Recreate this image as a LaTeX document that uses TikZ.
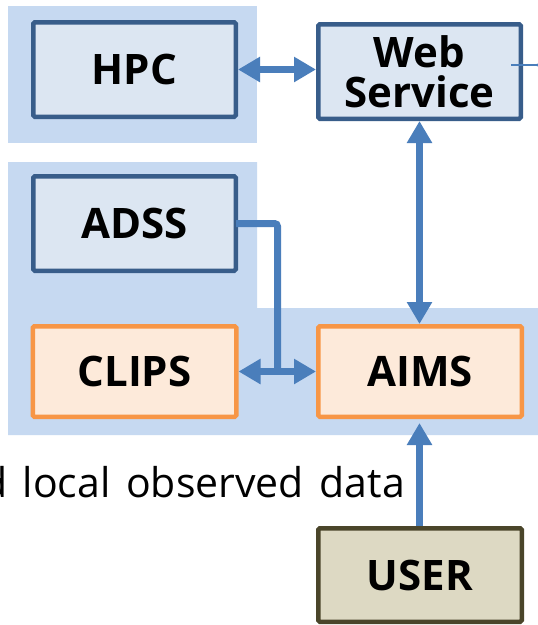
\documentclass[tikz,border=0pt]{standalone}
\usepackage{fontspec}
\setmainfont{Open Sans}
\usetikzlibrary{arrows.meta,calc}
\definecolor{panel}{HTML}{C6D9F1}
\definecolor{bluefill}{HTML}{DCE6F2}
\definecolor{blueline}{HTML}{385D8A}
\definecolor{orfill}{HTML}{FDEADA}
\definecolor{orline}{HTML}{F79646}
\definecolor{usfill}{HTML}{DDD9C3}
\definecolor{usline}{HTML}{4A452A}
\definecolor{arrcol}{HTML}{4A7EBB}
\tikzset{
  box/.style={draw, line width=4.5pt, rounded corners=1.5pt, inner sep=0pt,
    minimum width=202.5pt, align=center,
    font=\fontsize{42}{40}\selectfont\bfseries},
  bluebox/.style={box, fill=bluefill, draw=blueline, minimum height=94.5pt},
  orbox/.style={box, fill=orfill, draw=orline, minimum height=90.5pt, minimum width=203.5pt},
  userbox/.style={box, fill=usfill, draw=usline, minimum height=93.5pt, minimum width=203.5pt},
  arr/.style={draw=arrcol, line width=7pt},
  tipA/.tip={Triangle[length=22pt,width=24pt]},
  thinline/.style={draw=arrcol, line width=2.5pt},
}
\begin{document}
\begin{tikzpicture}[x=1pt,y=-1pt]
\clip (0,0) rectangle (538,625);
\fill[white] (0,0) rectangle (538,625);
% panels
\fill[panel] (8,6) rectangle (257,143);
\fill[panel] (8,162) -- (257,162) -- (257,308) -- (538,308) -- (538,435) -- (8,435) -- cycle;
% boxes
\node[bluebox] (hpc) at (134.5,69.5) {HPC};
\node[bluebox] (web) at (419.5,71.5) {Web\\Service};
\node[bluebox] (adss) at (134.5,223.5) {ADSS};
\node[orbox] (clips) at (134.5,371.5) {CLIPS};
\node[orbox] (aims) at (420,371.5) {AIMS};
\node[userbox] (user) at (420,575) {USER};
% text
\node[anchor=base east, inner sep=0pt, font=\fontsize{41}{45}\selectfont] (obs) at (405,497) {\spaceskip=0.38em\relax d local observed data};
% connectors
\draw[arr, {tipA}-{tipA}] (hpc.east) -- (hpc.east -| web.west);
\draw[arr, {tipA}-{tipA}] (web.south -| 419.5,0) -- (aims.north -| 419.5,0);
\draw[arr, -{tipA}, shorten >=4pt] (user.north -| 419.5,0) -- (aims.south -| 419.5,0);
\coordinate (junc) at (277.5,371.5);
\draw[arr, rounded corners=3pt] ([xshift=-2pt]adss.east) -| (junc);
\draw[arr, {tipA}-{tipA}] (clips.east) -- (aims.west);
\coordinate (wsend) at (536,65);
\draw[thinline] ([xshift=-12pt,yshift=6.5pt]web.east) -- (wsend);
\draw[thinline, line width=1.5pt] (wsend) -- +(12,-4) (wsend) -- +(12,4);
\end{tikzpicture}
\end{document}
